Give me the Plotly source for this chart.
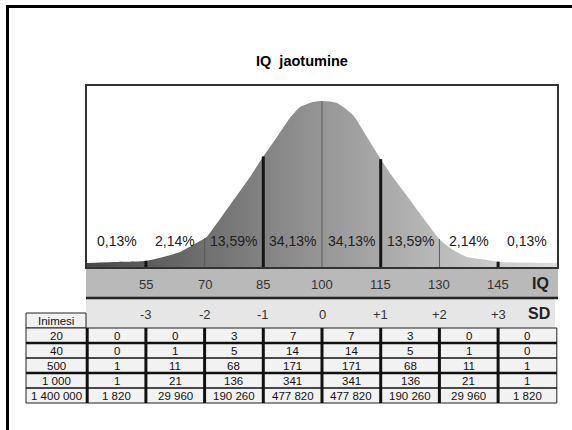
import numpy as np
import plotly.graph_objects as go

# ---------------- data ----------------
title_text = "IQ  jaotumine"
curve_iq = [39.7, 46.6, 54.8, 59.4, 63.7, 67.0, 70.5, 72.1, 76.5, 81.6, 84.9, 88.5, 91.8, 94.4,
            97.7, 100.0, 103.8, 107.9, 111.5, 114.8, 118.1, 122.5, 126.8, 130.2, 133.5, 137.1,
            142.2, 145.5, 160.3]
curve_h = [5, 6, 7, 11, 16, 23, 31, 39, 63, 91, 111, 131, 150, 161,
           166, 167, 165, 153, 131, 110, 91, 68, 45, 28, 18, 11,
           8, 6, 5]
iq_ticks = [55, 70, 85, 100, 115, 130, 145]
sd_labels = ["-3", "-2", "-1", "0", "+1", "+2", "+3"]
thick_ticks = [55, 85, 115, 145]
pct_labels = ["0,13%", "2,14%", "13,59%", "34,13%", "34,13%", "13,59%", "2,14%", "0,13%"]
seg_edges = [40, 55, 70, 85, 100, 115, 130, 145, 160]
table_header = "Inimesi"
row_people = [20, 40, 500, 1000, 1400000]
row_20 = [0, 0, 3, 7, 7, 3, 0, 0]
row_40 = [0, 1, 5, 14, 14, 5, 1, 0]
row_500 = [1, 11, 68, 171, 171, 68, 11, 1]
row_1000 = [1, 21, 136, 341, 341, 136, 21, 1]
row_1400000 = [1820, 29960, 190260, 477820, 477820, 190260, 29960, 1820]
table_rows = [row_20, row_40, row_500, row_1000, row_1400000]

# ------------- layout helpers (pixel -> axis units) -------------
W, H = 572, 430
MEAN_PX, SD_PX, BASE_PX = 322, 58.7, 268


def X(px):
    return 100 + (px - MEAN_PX) * 15 / SD_PX


def Y(py):
    return BASE_PX - py


def fmt(v):
    return f"{v:,}".replace(",", " ")


FONT = "Arial, Liberation Sans, sans-serif"
fig = go.Figure()

# curve with horizontal gradient fill
fig.add_trace(go.Scatter(
    x=curve_iq, y=curve_h, mode="lines",
    line=dict(width=0, color="rgba(0,0,0,0)", shape="spline", smoothing=0.6),
    fill="tozeroy",
    fillgradient=dict(type="horizontal",
                      colorscale=[[0, "#484848"], [0.5, "#969696"], [1, "#dedede"]]),
    hoverinfo="skip", showlegend=False))

# vertical SD lines up to the curve
tick_h = np.interp(iq_ticks, curve_iq, curve_h)
for t, h in zip(iq_ticks, tick_h):
    thick = t in thick_ticks
    fig.add_trace(go.Scatter(
        x=[t, t], y=[0, h], mode="lines",
        line=dict(width=3 if thick else 1, color="#161616" if thick else "#5a5a5a"),
        hoverinfo="skip", showlegend=False))

shapes = []
# outer frame
shapes.append(dict(type="line", x0=X(7.5), x1=X(7.5), y0=Y(5), y1=Y(440),
                   line=dict(color="black", width=3)))
shapes.append(dict(type="line", x0=X(6), x1=X(580), y0=Y(6.5), y1=Y(6.5),
                   line=dict(color="black", width=3)))
# IQ band and SD band
shapes.append(dict(type="rect", x0=X(86), x1=X(558), y0=Y(268), y1=Y(298),
                   fillcolor="#b9b9b9", line=dict(width=0), layer="below"))
shapes.append(dict(type="rect", x0=X(86), x1=X(555), y0=Y(298), y1=Y(328),
                   fillcolor="#e6e6e6", line=dict(width=0), layer="below"))
shapes.append(dict(type="line", x0=X(86), x1=X(558), y0=Y(298), y1=Y(298),
                   line=dict(color="#222222", width=2.5)))
# plot area border
shapes.append(dict(type="rect", x0=X(86), x1=X(558), y0=Y(85), y1=Y(268),
                   line=dict(color="#333333", width=2)))

# table
row_edges_px = [313, 328, 343, 358, 373, 388, 403]
lab_x0, lab_x1 = X(26), X(86)
# header cell
shapes.append(dict(type="rect", x0=lab_x0, x1=lab_x1, y0=Y(313), y1=Y(328),
                   fillcolor="#f2f2f2", line=dict(color="#222222", width=1), layer="below"))
# body fill
shapes.append(dict(type="rect", x0=lab_x0, x1=seg_edges[-1], y0=Y(328), y1=Y(403),
                   fillcolor="#f2f2f2", line=dict(color="#222222", width=1), layer="below"))
# horizontal lines
hw = {343: 2.5, 358: 1.3, 373: 2.5, 388: 1.3}
for py, w in hw.items():
    shapes.append(dict(type="line", x0=lab_x0, x1=seg_edges[-1], y0=Y(py), y1=Y(py),
                       line=dict(color="#111111", width=w)))
# vertical lines
for e in seg_edges[:-1]:
    shapes.append(dict(type="line", x0=e, x1=e, y0=Y(328), y1=Y(403),
                       line=dict(color="#111111", width=3)))

annotations = []
annotations.append(dict(x=X(302), y=Y(61), text=f"<b>{title_text}</b>", showarrow=False,
                        font=dict(family=FONT, size=14.5, color="black")))
mids = [(a + b) / 2 for a, b in zip(seg_edges[:-1], seg_edges[1:])]
for m, lab in zip(mids, pct_labels):
    annotations.append(dict(x=m, y=Y(241), text=lab, showarrow=False,
                            font=dict(family=FONT, size=14, color="#222222")))
for t in iq_ticks:
    annotations.append(dict(x=t, y=Y(284), text=str(t), showarrow=False,
                            font=dict(family=FONT, size=13, color="#333333")))
for t, s in zip(iq_ticks, sd_labels):
    annotations.append(dict(x=t, y=Y(314), text=s, showarrow=False,
                            font=dict(family=FONT, size=13, color="#333333")))
annotations.append(dict(x=X(540), y=Y(283), text="<b>IQ</b>", showarrow=False,
                        font=dict(family=FONT, size=16, color="#222222")))
annotations.append(dict(x=X(539), y=Y(313), text="<b>SD</b>", showarrow=False,
                        font=dict(family=FONT, size=16, color="#222222")))
annotations.append(dict(x=X(56), y=Y(321), text=table_header, showarrow=False,
                        font=dict(family=FONT, size=11.5, color="#111111")))
for i, (ppl, vals) in enumerate(zip(row_people, table_rows)):
    yc = Y((row_edges_px[i + 1] + row_edges_px[i + 2]) / 2)
    annotations.append(dict(x=X(56), y=yc, text=fmt(ppl), showarrow=False,
                            font=dict(family=FONT, size=11.5, color="#111111")))
    for m, v in zip(mids, vals):
        annotations.append(dict(x=m, y=yc, text=fmt(v), showarrow=False,
                                font=dict(family=FONT, size=11.5, color="#111111")))

fig.update_layout(
    width=W, height=H, margin=dict(l=0, r=0, t=0, b=0),
    paper_bgcolor="white", plot_bgcolor="white",
    xaxis=dict(range=[X(0), X(W)], visible=False, fixedrange=True),
    yaxis=dict(range=[Y(H), Y(0)], visible=False, fixedrange=True),
    shapes=shapes, annotations=annotations, showlegend=False,
)
fig.write_html("out.html", config={"displayModeBar": False},
               post_script="document.body.style.margin='0';document.body.style.overflow='hidden';")
